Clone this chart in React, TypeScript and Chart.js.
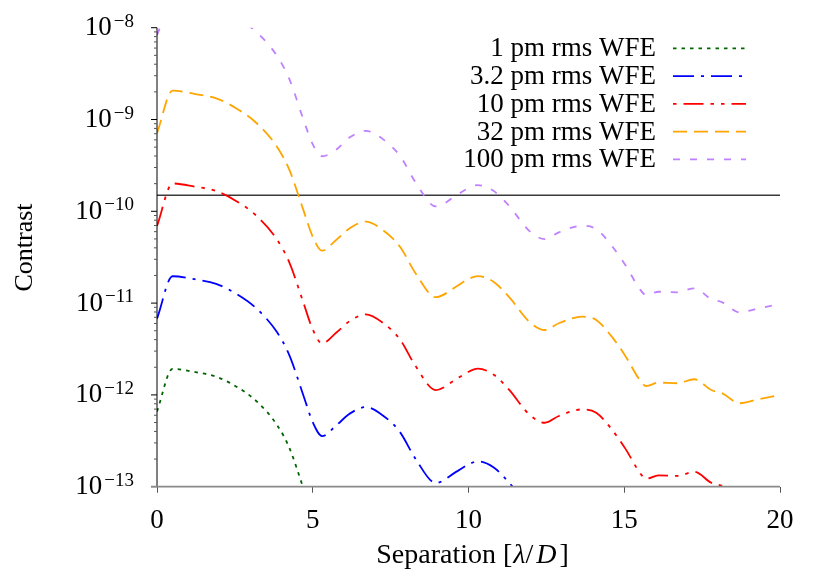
import { useEffect, useRef } from "react";
import { Chart, registerables } from "chart.js";

Chart.register(...registerables);

// Separation in lambda/D
const separation = [
  0, 0.5, 1.2, 1.9, 2.55, 3.2, 3.85, 4.25, 4.7, 5.0,
  5.3, 5.75, 6.2, 6.7, 7.25, 7.8, 8.3, 8.95, 9.6, 9.95,
  10.3, 10.8, 11.3, 11.95, 12.45, 12.9, 13.65, 14.1, 14.6, 15.05,
  15.5, 15.7, 16.1, 16.7, 17.25, 17.8, 18.15, 18.7, 19.3, 20,
];

const wfe1pm = [
  6.61e-13, 1.92e-12, 1.78e-12, 1.58e-12, 1.23e-12, 8.49e-13, 4.72e-13, 2.64e-13, 9.65e-14, 4.93e-14,
  null, null, null, null, null, null, null, null, null, null,
  null, null, null, null, null, null, null, null, null, null,
  null, null, null, null, null, null, null, null, null, null,
];

const wfe3p2pm = [
  6.76e-12, 1.96e-11, 1.82e-11, 1.62e-11, 1.26e-11, 8.69e-12, 4.83e-12, 2.70e-12, 9.87e-13, 5.04e-13,
  3.56e-13, 4.64e-13, 6.29e-13, 7.36e-13, 5.97e-13, 3.93e-13, 2.01e-13, 1.10e-13, 1.45e-13, 1.71e-13,
  1.89e-13, 1.63e-13, 1.11e-13, 5.99e-14, null, null, null, null, null, null,
  null, null, null, null, null, null, null, null, null, null,
];

const wfe10pm = [
  6.92e-11, 2.01e-10, 1.86e-10, 1.66e-10, 1.29e-10, 8.89e-11, 4.94e-11, 2.76e-11, 1.01e-11, 5.16e-12,
  3.64e-12, 4.75e-12, 6.43e-12, 7.53e-12, 6.11e-12, 4.02e-12, 2.06e-12, 1.13e-12, 1.48e-12, 1.75e-12,
  1.93e-12, 1.67e-12, 1.14e-12, 6.13e-13, 4.97e-13, 5.89e-13, 6.95e-13, 6.40e-13, 4.21e-13, 2.55e-13,
  1.42e-13, 1.22e-13, 1.33e-13, 1.31e-13, 1.45e-13, 1.10e-13, 1.02e-13, 7.93e-14, 8.75e-14, 1.0e-13,
];

const wfe32pm = [
  7.08e-10, 2.06e-9, 1.90e-9, 1.70e-9, 1.32e-9, 9.10e-10, 5.06e-10, 2.82e-10, 1.03e-10, 5.28e-11,
  3.72e-11, 4.86e-11, 6.58e-11, 7.71e-11, 6.25e-11, 4.11e-11, 2.11e-11, 1.16e-11, 1.51e-11, 1.79e-11,
  1.97e-11, 1.71e-11, 1.17e-11, 6.27e-12, 5.09e-12, 6.03e-12, 7.11e-12, 6.55e-12, 4.31e-12, 2.61e-12,
  1.45e-12, 1.25e-12, 1.36e-12, 1.34e-12, 1.48e-12, 1.13e-12, 1.04e-12, 8.11e-13, 8.95e-13, 1.00e-12,
];

const wfe100pm = [
  8.3e-9, 2.0e-8, 1.86e-8, 1.66e-8, 1.29e-8, 8.9e-9, 4.94e-9, 2.75e-9, 1.0e-9, 5.37e-10,
  3.98e-10, 4.68e-10, 6.43e-10, 7.53e-10, 6.11e-10, 4.02e-10, 2.07e-10, 1.13e-10, 1.48e-10, 1.75e-10,
  1.93e-10, 1.67e-10, 1.15e-10, 6.12e-11, 4.98e-11, 5.89e-11, 6.95e-11, 6.40e-11, 4.21e-11, 2.55e-11,
  1.42e-11, 1.22e-11, 1.33e-11, 1.31e-11, 1.45e-11, 1.10e-11, 1.02e-11, 7.93e-12, 8.75e-12, 9.75e-12,
];

const seriesLabels = ["1 pm rms WFE", "3.2 pm rms WFE", "10 pm rms WFE", "32 pm rms WFE", "100 pm rms WFE"];
const seriesColors = ["#006400", "#0000ff", "#ff0000", "#ffa500", "#c080ff"];
const seriesDashes = [
  [3.5, 5],
  [21, 7, 3, 7],
  [20, 7, 3.5, 7, 3.5, 7],
  [14, 7],
  [7, 10],
];
const legendDashOffsets = [0, 0, 37.5, 0, 0];

const limitX = [0, 20];
const limitContrast = [1.5e-10, 1.5e-10];

const xTickValues = [0, 5, 10, 15, 20];
const yDecades = [-8, -9, -10, -11, -12, -13];
const yMinorMantissas = [2, 3, 4, 5, 6, 7, 8, 9];

const FONT = "'Liberation Serif', 'Times New Roman', serif";

export default function App() {
  const ref = useRef<HTMLCanvasElement>(null);

  useEffect(() => {
    const canvas = ref.current;
    if (!canvas) return;
    const seriesData = [wfe1pm, wfe3p2pm, wfe10pm, wfe32pm, wfe100pm];
    const datasets: any[] = seriesData.map((vals, i) => ({
      label: seriesLabels[i],
      data: separation.map((x, j) => ({ x, y: vals[j] })),
      borderColor: seriesColors[i],
      borderDash: seriesDashes[i],
      borderWidth: 1.8,
      pointRadius: 0,
      cubicInterpolationMode: "monotone",
      fill: false,
    }));
    datasets.push({
      label: "limit",
      data: limitX.map((x, j) => ({ x, y: limitContrast[j] })),
      borderColor: "#3a3a3a",
      borderWidth: 1.5,
      pointRadius: 0,
      tension: 0,
      fill: false,
    });

    const decor = {
      id: "decor",
      afterDraw(chart: any) {
        const { ctx, chartArea } = chart;
        const xs = chart.scales.x;
        const ys = chart.scales.y;
        const { left, right, bottom, top } = chartArea;
        ctx.save();
        ctx.setLineDash([]);

        // y axis line
        ctx.strokeStyle = "#000";
        ctx.lineWidth = 1;
        ctx.beginPath();
        ctx.moveTo(left, top);
        ctx.lineTo(left, bottom);
        ctx.stroke();

        // minor ticks
        ctx.strokeStyle = "#555";
        for (const e of yDecades) {
          for (const m of yMinorMantissas) {
            const v = m * Math.pow(10, e);
            if (v > 1.0001e-8) continue;
            const py = ys.getPixelForValue(v);
            ctx.beginPath();
            ctx.moveTo(left - 3, py);
            ctx.lineTo(left, py);
            ctx.stroke();
          }
        }
        // major ticks
        ctx.strokeStyle = "#000";
        for (const e of yDecades) {
          const py = ys.getPixelForValue(Math.pow(10, e));
          ctx.beginPath();
          ctx.moveTo(left - 6, py);
          ctx.lineTo(left, py);
          ctx.stroke();
        }

        // x axis line (gray)
        ctx.strokeStyle = "#8a8a8a";
        ctx.lineWidth = 1.8;
        ctx.beginPath();
        ctx.moveTo(left - 6, bottom);
        ctx.lineTo(right, bottom);
        ctx.stroke();

        // y tick labels 10^e
        ctx.fillStyle = "#000";
        ctx.textBaseline = "alphabetic";
        ctx.textAlign = "right";
        const labelRight = 134;
        for (const e of yDecades) {
          const py = ys.getPixelForValue(Math.pow(10, e));
          const expText = "\u2212" + Math.abs(e);
          ctx.font = `19px ${FONT}`;
          const ew = ctx.measureText(expText).width;
          ctx.fillText(expText, labelRight, py - 1);
          ctx.font = `27px ${FONT}`;
          ctx.fillText("10", labelRight - ew - 2, py + 7.5);
        }

        // x tick labels
        ctx.textAlign = "center";
        ctx.font = `27px ${FONT}`;
        for (const v of xTickValues) {
          ctx.fillText(String(v), xs.getPixelForValue(v), bottom + 41);
        }

        // x title: Separation [λ/D]
        const pieces = [
          { t: "Separation [", f: `28px ${FONT}`, gap: 1 },
          { t: "\u03bb", f: `italic 28px ${FONT}`, gap: 0 },
          { t: "/", f: `28px ${FONT}`, gap: 3 },
          { t: "D", f: `italic 28px ${FONT}`, gap: 3 },
          { t: "]", f: `28px ${FONT}`, gap: 0 },
        ];
        let total = 0;
        const widths = pieces.map((p) => {
          ctx.font = p.f;
          const w = ctx.measureText(p.t).width;
          total += w + p.gap;
          return w;
        });
        let cx = 472.5 - total / 2;
        ctx.textAlign = "left";
        pieces.forEach((p, i) => {
          ctx.font = p.f;
          ctx.fillText(p.t, cx, 563);
          cx += widths[i] + p.gap;
        });

        // y title
        ctx.save();
        ctx.translate(32, 247.5);
        ctx.rotate(-Math.PI / 2);
        ctx.textAlign = "center";
        ctx.font = `26px ${FONT}`;
        ctx.fillText("Contrast", 0, 0);
        ctx.restore();

        // legend
        for (let i = 0; i < seriesLabels.length; i++) {
          const ly = 48.3 + i * 27.75;
          ctx.font = `27px ${FONT}`;
          ctx.textAlign = "right";
          ctx.fillStyle = "#000";
          ctx.fillText(seriesLabels[i], 656, ly + 8);
          ctx.strokeStyle = seriesColors[i];
          ctx.lineWidth = 1.8;
          ctx.setLineDash(seriesDashes[i]);
          ctx.lineDashOffset = legendDashOffsets[i];
          ctx.beginPath();
          ctx.moveTo(673, ly);
          ctx.lineTo(746, ly);
          ctx.stroke();
        }
        ctx.setLineDash([]);
        ctx.lineDashOffset = 0;
        ctx.restore();
      },
    };

    const chart = new Chart(canvas, {
      type: "line",
      data: { datasets },
      options: {
        animation: false,
        responsive: false,
        events: [],
        layout: { padding: { left: 157, right: 50, top: 27.7, bottom: 0 } },
        plugins: { legend: { display: false }, tooltip: { enabled: false }, title: { display: false } },
        scales: {
          x: {
            type: "linear",
            min: 0,
            max: 20,
            ticks: { display: false, stepSize: 5 },
            grid: { drawOnChartArea: false, drawTicks: true, tickLength: 6, tickColor: "#555", tickWidth: 1 },
            border: { display: false },
            afterFit: (s: any) => {
              s.height = 94.3;
            },
          },
          y: {
            type: "logarithmic",
            min: 1e-13,
            max: 1e-8,
            ticks: { display: false },
            grid: { display: false },
            border: { display: false },
            afterFit: (s: any) => {
              s.width = 0;
            },
          },
        },
      } as any,
      plugins: [decor],
    });

    return () => {
      chart.destroy();
    };
  }, []);

  return (
    <div style={{ position: "absolute", left: 0, top: 0, width: 830, height: 581, background: "#fff" }}>
      <canvas ref={ref} width={830} height={581} style={{ width: 830, height: 581, display: "block" }} />
    </div>
  );
}
